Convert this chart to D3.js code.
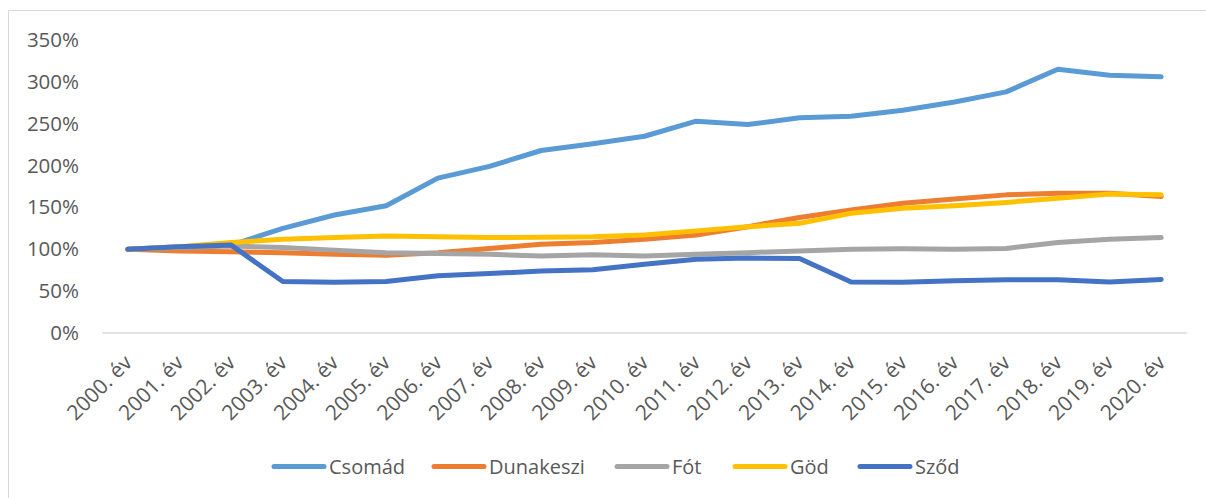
<!DOCTYPE html>
<html><head><meta charset="utf-8">
<script src="https://cdn.jsdelivr.net/npm/d3@7"></script>
<style>
html,body{margin:0;padding:0;background:#fff;}
svg{display:block;}
text{font-family:"Open Sans","Noto Sans",sans-serif;fill:#595959;}
</style></head>
<body>
<svg id="c" width="1206" height="498"></svg>
<script>
const years = ["2000. év","2001. év","2002. év","2003. év","2004. év","2005. év","2006. év","2007. év","2008. év","2009. év","2010. év","2011. év","2012. év","2013. év","2014. év","2015. év","2016. év","2017. év","2018. év","2019. év","2020. év"];
const seriesNames = ["Csomád","Dunakeszi","Fót","Göd","Sződ"];
const seriesColors = ["#5B9BD5","#ED7D31","#A5A5A5","#FFC000","#4472C4"];
const csomad   = [100,103,105,125,141,152,185,199,218,226,235,253,249,257,259,266,276,288,315,308,306];
const dunakeszi= [100,98,97,96,94,93,96,101,106,108,112,117,127,138,147,155,160,165,167,167,163];
const fot      = [100,102,104,102,99,96,95,94,92,93.5,92,94,96,98,100,100.5,100,101,108,112,114];
const god      = [100,103,108,112,114,116,115,114,114.5,115,117,122,127,131,143,149,152,156,161,166,165];
const szod     = [100,103,105,61.5,60.5,61.5,68.5,71,74,75.5,82,88,89.5,89,61,60.5,62.5,63.5,63.5,61,64];
const yTicks = [0,50,100,150,200,250,300,350];

const allSeries = [csomad,dunakeszi,fot,god,szod];
const svg = d3.select("#c");

// outer chart frame
svg.append("rect").attr("x",8.5).attr("y",10.5).attr("width",1300).attr("height",600)
  .attr("fill","none").attr("stroke","#d9d9d9").attr("stroke-width",1);

const mLeft=102, mRight=1187, mTop=40, mBottom=333;
const x = d3.scalePoint().domain(years).range([mLeft,mRight]).padding(0.5);
const y = d3.scaleLinear().domain([0,350]).range([mBottom,mTop]);

// y axis labels
const yAxis = svg.append("g").attr("transform",`translate(${mLeft},0)`)
  .call(d3.axisLeft(y).tickValues(yTicks).tickFormat(d=>d+"%").tickSize(0).tickPadding(23));
yAxis.select(".domain").remove();
yAxis.selectAll("text").style("font-size","20.5px").attr("fill","#595959");

// baseline
svg.append("line").attr("x1",mLeft).attr("x2",mRight).attr("y1",y(0)).attr("y2",y(0))
  .attr("stroke","#d9d9d9").attr("stroke-width",1.5);

// x labels
const xAxis = svg.append("g").attr("transform",`translate(0,${mBottom})`)
  .call(d3.axisBottom(x).tickSize(0));
xAxis.select(".domain").remove();
xAxis.selectAll("text")
  .style("font-size","21px").attr("fill","#595959")
  .attr("text-anchor","end").attr("dy",0).attr("y",0)
  .attr("transform","translate(5,31) rotate(-45)");

// lines
const line = d3.line().x((d,i)=>x(years[i])).y(d=>y(d));
allSeries.forEach((s,k)=>{
  svg.append("path").datum(s).attr("d",line).attr("fill","none")
    .attr("stroke",seriesColors[k]).attr("stroke-width",5)
    .attr("stroke-linejoin","round").attr("stroke-linecap","round");
});

// legend
const legX = [272,432,615,733,858];
const lg = svg.append("g");
seriesNames.forEach((n,k)=>{
  const g = lg.append("g").attr("transform",`translate(${legX[k]},466.5)`);
  g.append("line").attr("x1",2).attr("x2",52).attr("y1",0).attr("y2",0)
    .attr("stroke",seriesColors[k]).attr("stroke-width",5).attr("stroke-linecap","round");
  g.append("text").attr("x",57).attr("y",0).attr("dy","0.35em")
    .style("font-size","20px").attr("fill","#595959").text(n);
});
</script>
</body></html>
